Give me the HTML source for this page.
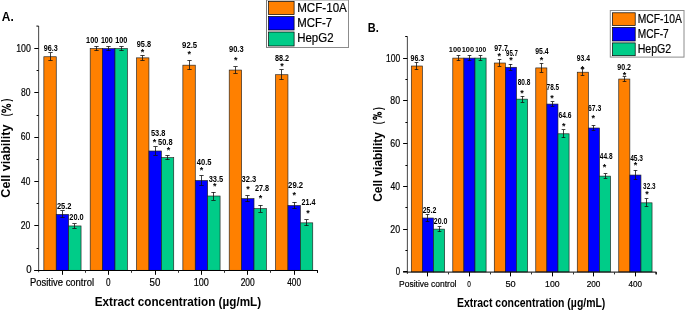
<!DOCTYPE html>
<html><head><meta charset="utf-8"><style>
html,body{margin:0;padding:0;background:#fff;}
body{width:685px;height:310px;overflow:hidden;}
svg{display:block;font-family:"Liberation Sans",sans-serif;will-change:transform;}
</style></head><body>
<svg width="685" height="310" viewBox="0 0 685 310">
<rect width="685" height="310" fill="#fff"/>
<text x="43.70" y="51.00" font-size="8.3" font-weight="bold" text-anchor="start" fill="#000" textLength="14.01" lengthAdjust="spacingAndGlyphs">96.3</text>
<text x="56.89" y="208.50" font-size="8.3" font-weight="bold" text-anchor="start" fill="#000" textLength="14.66" lengthAdjust="spacingAndGlyphs">25.2</text>
<text x="69.29" y="219.80" font-size="8.3" font-weight="bold" text-anchor="start" fill="#000" textLength="14.46" lengthAdjust="spacingAndGlyphs">20.0</text>
<text x="86.09" y="42.60" font-size="8.3" font-weight="bold" text-anchor="start" fill="#000" textLength="12.16" lengthAdjust="spacingAndGlyphs">100</text>
<text x="100.90" y="42.60" font-size="8.3" font-weight="bold" text-anchor="start" fill="#000" textLength="11.84" lengthAdjust="spacingAndGlyphs">100</text>
<text x="115.19" y="42.60" font-size="8.3" font-weight="bold" text-anchor="start" fill="#000" textLength="12.16" lengthAdjust="spacingAndGlyphs">100</text>
<text x="136.80" y="46.50" font-size="8.3" font-weight="bold" text-anchor="start" fill="#000" textLength="14.18" lengthAdjust="spacingAndGlyphs">95.8</text>
<text x="150.92" y="135.60" font-size="8.3" font-weight="bold" text-anchor="start" fill="#000" textLength="14.46" lengthAdjust="spacingAndGlyphs">53.8</text>
<text x="158.12" y="144.80" font-size="8.3" font-weight="bold" text-anchor="start" fill="#000" textLength="14.46" lengthAdjust="spacingAndGlyphs">50.8</text>
<text x="182.08" y="48.00" font-size="8.3" font-weight="bold" text-anchor="start" fill="#000" textLength="15.08" lengthAdjust="spacingAndGlyphs">92.5</text>
<text x="196.74" y="164.90" font-size="8.3" font-weight="bold" text-anchor="start" fill="#000" textLength="14.73" lengthAdjust="spacingAndGlyphs">40.5</text>
<text x="208.68" y="181.70" font-size="8.3" font-weight="bold" text-anchor="start" fill="#000" textLength="14.58" lengthAdjust="spacingAndGlyphs">33.5</text>
<text x="228.99" y="51.90" font-size="8.3" font-weight="bold" text-anchor="start" fill="#000" textLength="14.63" lengthAdjust="spacingAndGlyphs">90.3</text>
<text x="241.58" y="182.10" font-size="8.3" font-weight="bold" text-anchor="start" fill="#000" textLength="14.75" lengthAdjust="spacingAndGlyphs">32.3</text>
<text x="255.00" y="191.10" font-size="8.3" font-weight="bold" text-anchor="start" fill="#000" textLength="14.18" lengthAdjust="spacingAndGlyphs">27.8</text>
<text x="274.92" y="60.60" font-size="8.3" font-weight="bold" text-anchor="start" fill="#000" textLength="14.12" lengthAdjust="spacingAndGlyphs">88.2</text>
<text x="288.08" y="188.20" font-size="8.3" font-weight="bold" text-anchor="start" fill="#000" textLength="15.08" lengthAdjust="spacingAndGlyphs">29.2</text>
<text x="301.50" y="204.70" font-size="8.3" font-weight="bold" text-anchor="start" fill="#000" textLength="14.09" lengthAdjust="spacingAndGlyphs">21.4</text>
<text x="142.60" y="54.72" font-size="9.00" font-weight="bold" text-anchor="middle">*</text>
<text x="154.50" y="145.17" font-size="9.00" font-weight="bold" text-anchor="middle">*</text>
<text x="168.50" y="152.72" font-size="9.00" font-weight="bold" text-anchor="middle">*</text>
<text x="189.20" y="56.92" font-size="9.00" font-weight="bold" text-anchor="middle">*</text>
<text x="201.50" y="173.42" font-size="9.00" font-weight="bold" text-anchor="middle">*</text>
<text x="214.70" y="189.22" font-size="9.00" font-weight="bold" text-anchor="middle">*</text>
<text x="235.70" y="62.72" font-size="9.00" font-weight="bold" text-anchor="middle">*</text>
<text x="247.90" y="191.77" font-size="9.00" font-weight="bold" text-anchor="middle">*</text>
<text x="260.50" y="200.97" font-size="9.00" font-weight="bold" text-anchor="middle">*</text>
<text x="282.00" y="68.82" font-size="9.00" font-weight="bold" text-anchor="middle">*</text>
<text x="294.20" y="197.62" font-size="9.00" font-weight="bold" text-anchor="middle">*</text>
<text x="307.90" y="216.32" font-size="9.00" font-weight="bold" text-anchor="middle">*</text>
<rect x="43.85" y="56.75" width="12.40" height="213.55" fill="#ff8000" stroke="#202020" stroke-width="0.65"/>
<rect x="56.25" y="214.42" width="12.40" height="55.88" fill="#0000ff" stroke="#202020" stroke-width="0.65"/>
<rect x="68.65" y="225.95" width="12.40" height="44.35" fill="#00cc88" stroke="#202020" stroke-width="0.65"/>
<rect x="90.19" y="48.55" width="12.40" height="221.75" fill="#ff8000" stroke="#202020" stroke-width="0.65"/>
<rect x="102.59" y="48.55" width="12.40" height="221.75" fill="#0000ff" stroke="#202020" stroke-width="0.65"/>
<rect x="114.99" y="48.55" width="12.40" height="221.75" fill="#00cc88" stroke="#202020" stroke-width="0.65"/>
<rect x="136.53" y="57.86" width="12.40" height="212.44" fill="#ff8000" stroke="#202020" stroke-width="0.65"/>
<rect x="148.93" y="151.00" width="12.40" height="119.30" fill="#0000ff" stroke="#202020" stroke-width="0.65"/>
<rect x="161.33" y="157.65" width="12.40" height="112.65" fill="#00cc88" stroke="#202020" stroke-width="0.65"/>
<rect x="182.87" y="65.18" width="12.40" height="205.12" fill="#ff8000" stroke="#202020" stroke-width="0.65"/>
<rect x="195.27" y="180.49" width="12.40" height="89.81" fill="#0000ff" stroke="#202020" stroke-width="0.65"/>
<rect x="207.67" y="196.01" width="12.40" height="74.29" fill="#00cc88" stroke="#202020" stroke-width="0.65"/>
<rect x="229.21" y="70.06" width="12.40" height="200.24" fill="#ff8000" stroke="#202020" stroke-width="0.65"/>
<rect x="241.61" y="198.67" width="12.40" height="71.63" fill="#0000ff" stroke="#202020" stroke-width="0.65"/>
<rect x="254.01" y="208.65" width="12.40" height="61.65" fill="#00cc88" stroke="#202020" stroke-width="0.65"/>
<rect x="275.55" y="74.72" width="12.40" height="195.58" fill="#ff8000" stroke="#202020" stroke-width="0.65"/>
<rect x="287.95" y="205.55" width="12.40" height="64.75" fill="#0000ff" stroke="#202020" stroke-width="0.65"/>
<rect x="300.35" y="222.85" width="12.40" height="47.45" fill="#00cc88" stroke="#202020" stroke-width="0.65"/>
<line x1="50.50" y1="52.95" x2="50.50" y2="60.55" stroke="#111" stroke-width="0.8"/>
<line x1="48.35" y1="52.50" x2="52.65" y2="52.50" stroke="#111" stroke-width="0.8"/>
<line x1="48.35" y1="60.50" x2="52.65" y2="60.50" stroke="#111" stroke-width="0.8"/>
<line x1="62.50" y1="210.97" x2="62.50" y2="217.87" stroke="#111" stroke-width="0.8"/>
<line x1="60.35" y1="210.50" x2="64.65" y2="210.50" stroke="#111" stroke-width="0.8"/>
<line x1="60.35" y1="217.50" x2="64.65" y2="217.50" stroke="#111" stroke-width="0.8"/>
<line x1="74.50" y1="223.85" x2="74.50" y2="228.05" stroke="#111" stroke-width="0.8"/>
<line x1="72.35" y1="223.50" x2="76.65" y2="223.50" stroke="#111" stroke-width="0.8"/>
<line x1="72.35" y1="228.50" x2="76.65" y2="228.50" stroke="#111" stroke-width="0.8"/>
<line x1="96.50" y1="46.45" x2="96.50" y2="50.65" stroke="#111" stroke-width="0.8"/>
<line x1="94.35" y1="46.50" x2="98.65" y2="46.50" stroke="#111" stroke-width="0.8"/>
<line x1="94.35" y1="50.50" x2="98.65" y2="50.50" stroke="#111" stroke-width="0.8"/>
<line x1="108.50" y1="46.45" x2="108.50" y2="50.65" stroke="#111" stroke-width="0.8"/>
<line x1="106.35" y1="46.50" x2="110.65" y2="46.50" stroke="#111" stroke-width="0.8"/>
<line x1="106.35" y1="50.50" x2="110.65" y2="50.50" stroke="#111" stroke-width="0.8"/>
<line x1="121.50" y1="46.45" x2="121.50" y2="50.65" stroke="#111" stroke-width="0.8"/>
<line x1="119.35" y1="46.50" x2="123.65" y2="46.50" stroke="#111" stroke-width="0.8"/>
<line x1="119.35" y1="50.50" x2="123.65" y2="50.50" stroke="#111" stroke-width="0.8"/>
<line x1="142.50" y1="55.41" x2="142.50" y2="60.31" stroke="#111" stroke-width="0.8"/>
<line x1="140.35" y1="55.50" x2="144.65" y2="55.50" stroke="#111" stroke-width="0.8"/>
<line x1="140.35" y1="60.50" x2="144.65" y2="60.50" stroke="#111" stroke-width="0.8"/>
<line x1="155.50" y1="146.80" x2="155.50" y2="155.20" stroke="#111" stroke-width="0.8"/>
<line x1="153.35" y1="146.50" x2="157.65" y2="146.50" stroke="#111" stroke-width="0.8"/>
<line x1="153.35" y1="155.50" x2="157.65" y2="155.50" stroke="#111" stroke-width="0.8"/>
<line x1="167.50" y1="155.55" x2="167.50" y2="159.75" stroke="#111" stroke-width="0.8"/>
<line x1="165.35" y1="155.50" x2="169.65" y2="155.50" stroke="#111" stroke-width="0.8"/>
<line x1="165.35" y1="159.50" x2="169.65" y2="159.50" stroke="#111" stroke-width="0.8"/>
<line x1="189.50" y1="60.48" x2="189.50" y2="69.88" stroke="#111" stroke-width="0.8"/>
<line x1="187.35" y1="60.50" x2="191.65" y2="60.50" stroke="#111" stroke-width="0.8"/>
<line x1="187.35" y1="69.50" x2="191.65" y2="69.50" stroke="#111" stroke-width="0.8"/>
<line x1="201.50" y1="175.49" x2="201.50" y2="185.49" stroke="#111" stroke-width="0.8"/>
<line x1="199.35" y1="175.50" x2="203.65" y2="175.50" stroke="#111" stroke-width="0.8"/>
<line x1="199.35" y1="185.50" x2="203.65" y2="185.50" stroke="#111" stroke-width="0.8"/>
<line x1="213.50" y1="192.01" x2="213.50" y2="200.01" stroke="#111" stroke-width="0.8"/>
<line x1="211.35" y1="192.50" x2="215.65" y2="192.50" stroke="#111" stroke-width="0.8"/>
<line x1="211.35" y1="200.50" x2="215.65" y2="200.50" stroke="#111" stroke-width="0.8"/>
<line x1="235.50" y1="66.86" x2="235.50" y2="73.26" stroke="#111" stroke-width="0.8"/>
<line x1="233.35" y1="66.50" x2="237.65" y2="66.50" stroke="#111" stroke-width="0.8"/>
<line x1="233.35" y1="73.50" x2="237.65" y2="73.50" stroke="#111" stroke-width="0.8"/>
<line x1="247.50" y1="195.57" x2="247.50" y2="201.77" stroke="#111" stroke-width="0.8"/>
<line x1="245.35" y1="195.50" x2="249.65" y2="195.50" stroke="#111" stroke-width="0.8"/>
<line x1="245.35" y1="201.50" x2="249.65" y2="201.50" stroke="#111" stroke-width="0.8"/>
<line x1="260.50" y1="205.25" x2="260.50" y2="212.05" stroke="#111" stroke-width="0.8"/>
<line x1="258.35" y1="205.50" x2="262.65" y2="205.50" stroke="#111" stroke-width="0.8"/>
<line x1="258.35" y1="212.50" x2="262.65" y2="212.50" stroke="#111" stroke-width="0.8"/>
<line x1="281.50" y1="69.72" x2="281.50" y2="79.72" stroke="#111" stroke-width="0.8"/>
<line x1="279.35" y1="69.50" x2="283.65" y2="69.50" stroke="#111" stroke-width="0.8"/>
<line x1="279.35" y1="79.50" x2="283.65" y2="79.50" stroke="#111" stroke-width="0.8"/>
<line x1="294.50" y1="202.30" x2="294.50" y2="208.80" stroke="#111" stroke-width="0.8"/>
<line x1="292.35" y1="202.50" x2="296.65" y2="202.50" stroke="#111" stroke-width="0.8"/>
<line x1="292.35" y1="208.50" x2="296.65" y2="208.50" stroke="#111" stroke-width="0.8"/>
<line x1="306.50" y1="219.85" x2="306.50" y2="225.85" stroke="#111" stroke-width="0.8"/>
<line x1="304.35" y1="219.50" x2="308.65" y2="219.50" stroke="#111" stroke-width="0.8"/>
<line x1="304.35" y1="225.50" x2="308.65" y2="225.50" stroke="#111" stroke-width="0.8"/>
<line x1="38.60" y1="26.10" x2="38.60" y2="272.30" stroke="#555" stroke-width="1.1"/>
<line x1="36.40" y1="26.10" x2="38.60" y2="26.10" stroke="#000" stroke-width="1.0"/>
<line x1="34.30" y1="270.50" x2="318.00" y2="270.50" stroke="#000" stroke-width="1.0"/>
<line x1="34.30" y1="270.50" x2="38.60" y2="270.50" stroke="#000" stroke-width="1.0"/>
<line x1="34.30" y1="225.50" x2="38.60" y2="225.50" stroke="#000" stroke-width="1.0"/>
<line x1="34.30" y1="181.50" x2="38.60" y2="181.50" stroke="#000" stroke-width="1.0"/>
<line x1="34.30" y1="137.50" x2="38.60" y2="137.50" stroke="#000" stroke-width="1.0"/>
<line x1="34.30" y1="92.50" x2="38.60" y2="92.50" stroke="#000" stroke-width="1.0"/>
<line x1="34.30" y1="48.50" x2="38.60" y2="48.50" stroke="#000" stroke-width="1.0"/>
<line x1="36.60" y1="248.50" x2="38.60" y2="248.50" stroke="#000" stroke-width="1.0"/>
<line x1="36.60" y1="203.50" x2="38.60" y2="203.50" stroke="#000" stroke-width="1.0"/>
<line x1="36.60" y1="159.50" x2="38.60" y2="159.50" stroke="#000" stroke-width="1.0"/>
<line x1="36.60" y1="115.50" x2="38.60" y2="115.50" stroke="#000" stroke-width="1.0"/>
<line x1="36.60" y1="70.50" x2="38.60" y2="70.50" stroke="#000" stroke-width="1.0"/>
<line x1="62.50" y1="270.50" x2="62.50" y2="274.80" stroke="#000" stroke-width="1.0"/>
<line x1="108.50" y1="270.50" x2="108.50" y2="274.80" stroke="#000" stroke-width="1.0"/>
<line x1="155.50" y1="270.50" x2="155.50" y2="274.80" stroke="#000" stroke-width="1.0"/>
<line x1="201.50" y1="270.50" x2="201.50" y2="274.80" stroke="#000" stroke-width="1.0"/>
<line x1="247.50" y1="270.50" x2="247.50" y2="274.80" stroke="#000" stroke-width="1.0"/>
<line x1="294.50" y1="270.50" x2="294.50" y2="274.80" stroke="#000" stroke-width="1.0"/>
<line x1="85.50" y1="270.50" x2="85.50" y2="272.80" stroke="#333" stroke-width="1.0"/>
<line x1="131.50" y1="270.50" x2="131.50" y2="272.80" stroke="#333" stroke-width="1.0"/>
<line x1="178.50" y1="270.50" x2="178.50" y2="272.80" stroke="#333" stroke-width="1.0"/>
<line x1="224.50" y1="270.50" x2="224.50" y2="272.80" stroke="#333" stroke-width="1.0"/>
<line x1="270.50" y1="270.50" x2="270.50" y2="272.80" stroke="#333" stroke-width="1.0"/>
<line x1="317.50" y1="270.50" x2="317.50" y2="272.80" stroke="#333" stroke-width="1.0"/>
<line x1="317.50" y1="270.50" x2="317.50" y2="272.80" stroke="#000" stroke-width="1.0"/>
<text x="26.27" y="273.30" font-size="10.5" font-weight="normal" text-anchor="start" fill="#000" textLength="5.35" lengthAdjust="spacingAndGlyphs" stroke="#000" stroke-width="0.2">0</text>
<text x="20.82" y="228.95" font-size="10.5" font-weight="normal" text-anchor="start" fill="#000" textLength="9.57" lengthAdjust="spacingAndGlyphs" stroke="#000" stroke-width="0.2">20</text>
<text x="21.06" y="184.60" font-size="10.5" font-weight="normal" text-anchor="start" fill="#000" textLength="9.32" lengthAdjust="spacingAndGlyphs" stroke="#000" stroke-width="0.2">40</text>
<text x="20.81" y="140.25" font-size="10.5" font-weight="normal" text-anchor="start" fill="#000" textLength="9.57" lengthAdjust="spacingAndGlyphs" stroke="#000" stroke-width="0.2">60</text>
<text x="20.88" y="95.90" font-size="10.5" font-weight="normal" text-anchor="start" fill="#000" textLength="9.51" lengthAdjust="spacingAndGlyphs" stroke="#000" stroke-width="0.2">80</text>
<text x="16.18" y="51.55" font-size="10.5" font-weight="normal" text-anchor="start" fill="#000" textLength="14.72" lengthAdjust="spacingAndGlyphs" stroke="#000" stroke-width="0.2">100</text>
<text x="29.98" y="285.90" font-size="10.0" font-weight="normal" text-anchor="start" fill="#000" textLength="64.01" lengthAdjust="spacingAndGlyphs" stroke="#000" stroke-width="0.2">Positive control</text>
<text x="105.93" y="285.90" font-size="10.0" font-weight="normal" text-anchor="start" fill="#000" textLength="4.54" lengthAdjust="spacingAndGlyphs" stroke="#000" stroke-width="0.2">0</text>
<text x="149.56" y="285.90" font-size="10.0" font-weight="normal" text-anchor="start" fill="#000" textLength="10.77" lengthAdjust="spacingAndGlyphs" stroke="#000" stroke-width="0.2">50</text>
<text x="193.76" y="285.90" font-size="10.0" font-weight="normal" text-anchor="start" fill="#000" textLength="15.15" lengthAdjust="spacingAndGlyphs" stroke="#000" stroke-width="0.2">100</text>
<text x="240.63" y="285.90" font-size="10.0" font-weight="normal" text-anchor="start" fill="#000" textLength="14.05" lengthAdjust="spacingAndGlyphs" stroke="#000" stroke-width="0.2">200</text>
<text x="287.26" y="285.90" font-size="10.0" font-weight="normal" text-anchor="start" fill="#000" textLength="13.81" lengthAdjust="spacingAndGlyphs" stroke="#000" stroke-width="0.2">400</text>
<text x="94.77" y="305.80" font-size="12.2" font-weight="bold" text-anchor="start" fill="#000" textLength="166.37" lengthAdjust="spacingAndGlyphs">Extract concentration (µg/mL)</text>
<text x="0" y="0" font-size="12.3" font-weight="bold" transform="translate(10.20 197.66) rotate(-90) scale(1.0196 1)">Cell viability</text>
<text x="0" y="0" font-size="12.3" font-weight="bold" transform="translate(10.20 116.37) rotate(-90) scale(0.6914 1)">(</text>
<ellipse cx="3.9" cy="110.9" rx="1.85" ry="1.35" fill="none" stroke="#000" stroke-width="1.25"/>
<ellipse cx="8.6" cy="105.6" rx="1.85" ry="1.35" fill="none" stroke="#000" stroke-width="1.25"/>
<line x1="1.9" y1="106.0" x2="11.0" y2="110.3" stroke="#000" stroke-width="1.15"/>
<text x="0" y="0" font-size="12.3" font-weight="bold" transform="translate(10.20 101.56) rotate(-90) scale(0.6914 1)">)</text>
<text x="1.85" y="21.00" font-size="12.5" font-weight="bold" text-anchor="start" fill="#000" textLength="11.92" lengthAdjust="spacingAndGlyphs">A.</text>
<rect x="266.5" y="0" width="82" height="47.5" fill="#fff" stroke="#8c8c8c" stroke-width="1"/>
<line x1="266.5" y1="0" x2="266.5" y2="47.5" stroke="#777" stroke-width="1"/>
<rect x="268.6" y="1.50" width="25.5" height="13.00" fill="#ff8000" stroke="#000" stroke-width="0.7"/>
<rect x="268.6" y="16.50" width="25.5" height="13.50" fill="#0000ff" stroke="#000" stroke-width="0.7"/>
<rect x="268.6" y="32.00" width="25.5" height="14.00" fill="#00cc88" stroke="#000" stroke-width="0.7"/>
<text x="410.61" y="60.60" font-size="8.3" font-weight="bold" text-anchor="start" fill="#000" textLength="13.59" lengthAdjust="spacingAndGlyphs">96.3</text>
<text x="422.71" y="212.70" font-size="8.3" font-weight="bold" text-anchor="start" fill="#000" textLength="13.62" lengthAdjust="spacingAndGlyphs">25.2</text>
<text x="433.81" y="224.10" font-size="8.3" font-weight="bold" text-anchor="start" fill="#000" textLength="13.63" lengthAdjust="spacingAndGlyphs">20.0</text>
<text x="448.78" y="51.90" font-size="7.4" font-weight="bold" text-anchor="start" fill="#000" textLength="12.37" lengthAdjust="spacingAndGlyphs">100</text>
<text x="461.68" y="51.90" font-size="7.4" font-weight="bold" text-anchor="start" fill="#000" textLength="12.37" lengthAdjust="spacingAndGlyphs">100</text>
<text x="475.14" y="51.90" font-size="7.4" font-weight="bold" text-anchor="start" fill="#000" textLength="10.98" lengthAdjust="spacingAndGlyphs">100</text>
<text x="494.21" y="50.50" font-size="8.3" font-weight="bold" text-anchor="start" fill="#000" textLength="13.65" lengthAdjust="spacingAndGlyphs">97.7</text>
<text x="506.04" y="56.30" font-size="8.3" font-weight="bold" text-anchor="start" fill="#000" textLength="11.78" lengthAdjust="spacingAndGlyphs">95.7</text>
<text x="517.74" y="85.40" font-size="8.3" font-weight="bold" text-anchor="start" fill="#000" textLength="12.71" lengthAdjust="spacingAndGlyphs">80.8</text>
<text x="535.31" y="53.50" font-size="8.3" font-weight="bold" text-anchor="start" fill="#000" textLength="13.38" lengthAdjust="spacingAndGlyphs">95.4</text>
<text x="546.57" y="90.30" font-size="8.3" font-weight="bold" text-anchor="start" fill="#000" textLength="12.56" lengthAdjust="spacingAndGlyphs">78.5</text>
<text x="558.51" y="118.20" font-size="8.3" font-weight="bold" text-anchor="start" fill="#000" textLength="12.99" lengthAdjust="spacingAndGlyphs">64.6</text>
<text x="576.82" y="61.00" font-size="8.3" font-weight="bold" text-anchor="start" fill="#000" textLength="13.17" lengthAdjust="spacingAndGlyphs">93.4</text>
<text x="588.00" y="111.00" font-size="8.3" font-weight="bold" text-anchor="start" fill="#000" textLength="13.30" lengthAdjust="spacingAndGlyphs">67.3</text>
<text x="599.85" y="158.90" font-size="8.3" font-weight="bold" text-anchor="start" fill="#000" textLength="12.70" lengthAdjust="spacingAndGlyphs">44.8</text>
<text x="617.31" y="70.30" font-size="8.3" font-weight="bold" text-anchor="start" fill="#000" textLength="13.73" lengthAdjust="spacingAndGlyphs">90.2</text>
<text x="630.15" y="160.80" font-size="8.3" font-weight="bold" text-anchor="start" fill="#000" textLength="12.84" lengthAdjust="spacingAndGlyphs">45.3</text>
<text x="643.10" y="188.60" font-size="8.3" font-weight="bold" text-anchor="start" fill="#000" textLength="12.38" lengthAdjust="spacingAndGlyphs">32.3</text>
<text x="499.20" y="58.97" font-size="9.00" font-weight="bold" text-anchor="middle">*</text>
<text x="510.90" y="63.47" font-size="9.00" font-weight="bold" text-anchor="middle">*</text>
<text x="522.10" y="95.67" font-size="9.00" font-weight="bold" text-anchor="middle">*</text>
<text x="541.50" y="62.72" font-size="9.00" font-weight="bold" text-anchor="middle">*</text>
<text x="552.10" y="100.97" font-size="9.00" font-weight="bold" text-anchor="middle">*</text>
<text x="563.70" y="128.62" font-size="9.00" font-weight="bold" text-anchor="middle">*</text>
<text x="582.60" y="71.67" font-size="9.00" font-weight="bold" text-anchor="middle">*</text>
<text x="593.20" y="120.72" font-size="9.00" font-weight="bold" text-anchor="middle">*</text>
<text x="604.50" y="169.52" font-size="9.00" font-weight="bold" text-anchor="middle">*</text>
<text x="624.50" y="77.92" font-size="9.00" font-weight="bold" text-anchor="middle">*</text>
<text x="635.50" y="168.22" font-size="9.00" font-weight="bold" text-anchor="middle">*</text>
<text x="646.90" y="196.92" font-size="9.00" font-weight="bold" text-anchor="middle">*</text>
<rect x="411.30" y="66.01" width="11.10" height="205.89" fill="#ff8000" stroke="#202020" stroke-width="0.65"/>
<rect x="422.40" y="218.02" width="11.10" height="53.88" fill="#0000ff" stroke="#202020" stroke-width="0.65"/>
<rect x="433.50" y="229.14" width="11.10" height="42.76" fill="#00cc88" stroke="#202020" stroke-width="0.65"/>
<rect x="452.79" y="58.10" width="11.10" height="213.80" fill="#ff8000" stroke="#202020" stroke-width="0.65"/>
<rect x="463.89" y="58.10" width="11.10" height="213.80" fill="#0000ff" stroke="#202020" stroke-width="0.65"/>
<rect x="474.99" y="58.10" width="11.10" height="213.80" fill="#00cc88" stroke="#202020" stroke-width="0.65"/>
<rect x="494.28" y="63.02" width="11.10" height="208.88" fill="#ff8000" stroke="#202020" stroke-width="0.65"/>
<rect x="505.38" y="67.29" width="11.10" height="204.61" fill="#0000ff" stroke="#202020" stroke-width="0.65"/>
<rect x="516.48" y="99.15" width="11.10" height="172.75" fill="#00cc88" stroke="#202020" stroke-width="0.65"/>
<rect x="535.77" y="67.93" width="11.10" height="203.97" fill="#ff8000" stroke="#202020" stroke-width="0.65"/>
<rect x="546.87" y="104.07" width="11.10" height="167.83" fill="#0000ff" stroke="#202020" stroke-width="0.65"/>
<rect x="557.97" y="133.79" width="11.10" height="138.11" fill="#00cc88" stroke="#202020" stroke-width="0.65"/>
<rect x="577.26" y="72.21" width="11.10" height="199.69" fill="#ff8000" stroke="#202020" stroke-width="0.65"/>
<rect x="588.36" y="128.01" width="11.10" height="143.89" fill="#0000ff" stroke="#202020" stroke-width="0.65"/>
<rect x="599.46" y="176.12" width="11.10" height="95.78" fill="#00cc88" stroke="#202020" stroke-width="0.65"/>
<rect x="618.75" y="79.05" width="11.10" height="192.85" fill="#ff8000" stroke="#202020" stroke-width="0.65"/>
<rect x="629.85" y="175.05" width="11.10" height="96.85" fill="#0000ff" stroke="#202020" stroke-width="0.65"/>
<rect x="640.95" y="202.84" width="11.10" height="69.06" fill="#00cc88" stroke="#202020" stroke-width="0.65"/>
<line x1="416.50" y1="62.36" x2="416.50" y2="69.66" stroke="#111" stroke-width="0.8"/>
<line x1="414.65" y1="62.50" x2="418.35" y2="62.50" stroke="#111" stroke-width="0.8"/>
<line x1="414.65" y1="69.50" x2="418.35" y2="69.50" stroke="#111" stroke-width="0.8"/>
<line x1="427.50" y1="214.37" x2="427.50" y2="221.67" stroke="#111" stroke-width="0.8"/>
<line x1="425.65" y1="214.50" x2="429.35" y2="214.50" stroke="#111" stroke-width="0.8"/>
<line x1="425.65" y1="221.50" x2="429.35" y2="221.50" stroke="#111" stroke-width="0.8"/>
<line x1="439.50" y1="226.64" x2="439.50" y2="231.64" stroke="#111" stroke-width="0.8"/>
<line x1="437.65" y1="226.50" x2="441.35" y2="226.50" stroke="#111" stroke-width="0.8"/>
<line x1="437.65" y1="231.50" x2="441.35" y2="231.50" stroke="#111" stroke-width="0.8"/>
<line x1="458.50" y1="55.50" x2="458.50" y2="60.70" stroke="#111" stroke-width="0.8"/>
<line x1="456.65" y1="55.50" x2="460.35" y2="55.50" stroke="#111" stroke-width="0.8"/>
<line x1="456.65" y1="60.50" x2="460.35" y2="60.50" stroke="#111" stroke-width="0.8"/>
<line x1="469.50" y1="55.50" x2="469.50" y2="60.70" stroke="#111" stroke-width="0.8"/>
<line x1="467.65" y1="55.50" x2="471.35" y2="55.50" stroke="#111" stroke-width="0.8"/>
<line x1="467.65" y1="60.50" x2="471.35" y2="60.50" stroke="#111" stroke-width="0.8"/>
<line x1="480.50" y1="55.50" x2="480.50" y2="60.70" stroke="#111" stroke-width="0.8"/>
<line x1="478.65" y1="55.50" x2="482.35" y2="55.50" stroke="#111" stroke-width="0.8"/>
<line x1="478.65" y1="60.50" x2="482.35" y2="60.50" stroke="#111" stroke-width="0.8"/>
<line x1="499.50" y1="59.82" x2="499.50" y2="66.22" stroke="#111" stroke-width="0.8"/>
<line x1="497.65" y1="59.50" x2="501.35" y2="59.50" stroke="#111" stroke-width="0.8"/>
<line x1="497.65" y1="66.50" x2="501.35" y2="66.50" stroke="#111" stroke-width="0.8"/>
<line x1="510.50" y1="64.09" x2="510.50" y2="70.49" stroke="#111" stroke-width="0.8"/>
<line x1="508.65" y1="64.50" x2="512.35" y2="64.50" stroke="#111" stroke-width="0.8"/>
<line x1="508.65" y1="70.50" x2="512.35" y2="70.50" stroke="#111" stroke-width="0.8"/>
<line x1="522.50" y1="96.15" x2="522.50" y2="102.15" stroke="#111" stroke-width="0.8"/>
<line x1="520.65" y1="96.50" x2="524.35" y2="96.50" stroke="#111" stroke-width="0.8"/>
<line x1="520.65" y1="102.50" x2="524.35" y2="102.50" stroke="#111" stroke-width="0.8"/>
<line x1="541.50" y1="63.53" x2="541.50" y2="72.33" stroke="#111" stroke-width="0.8"/>
<line x1="539.65" y1="63.50" x2="543.35" y2="63.50" stroke="#111" stroke-width="0.8"/>
<line x1="539.65" y1="72.50" x2="543.35" y2="72.50" stroke="#111" stroke-width="0.8"/>
<line x1="552.50" y1="101.82" x2="552.50" y2="106.32" stroke="#111" stroke-width="0.8"/>
<line x1="550.65" y1="101.50" x2="554.35" y2="101.50" stroke="#111" stroke-width="0.8"/>
<line x1="550.65" y1="106.50" x2="554.35" y2="106.50" stroke="#111" stroke-width="0.8"/>
<line x1="563.50" y1="129.99" x2="563.50" y2="137.59" stroke="#111" stroke-width="0.8"/>
<line x1="561.65" y1="129.50" x2="565.35" y2="129.50" stroke="#111" stroke-width="0.8"/>
<line x1="561.65" y1="137.50" x2="565.35" y2="137.50" stroke="#111" stroke-width="0.8"/>
<line x1="582.50" y1="68.81" x2="582.50" y2="75.61" stroke="#111" stroke-width="0.8"/>
<line x1="580.65" y1="68.50" x2="584.35" y2="68.50" stroke="#111" stroke-width="0.8"/>
<line x1="580.65" y1="75.50" x2="584.35" y2="75.50" stroke="#111" stroke-width="0.8"/>
<line x1="593.50" y1="125.46" x2="593.50" y2="130.56" stroke="#111" stroke-width="0.8"/>
<line x1="591.65" y1="125.50" x2="595.35" y2="125.50" stroke="#111" stroke-width="0.8"/>
<line x1="591.65" y1="130.50" x2="595.35" y2="130.50" stroke="#111" stroke-width="0.8"/>
<line x1="605.50" y1="173.87" x2="605.50" y2="178.37" stroke="#111" stroke-width="0.8"/>
<line x1="603.65" y1="173.50" x2="607.35" y2="173.50" stroke="#111" stroke-width="0.8"/>
<line x1="603.65" y1="178.50" x2="607.35" y2="178.50" stroke="#111" stroke-width="0.8"/>
<line x1="624.50" y1="76.65" x2="624.50" y2="81.45" stroke="#111" stroke-width="0.8"/>
<line x1="622.65" y1="76.50" x2="626.35" y2="76.50" stroke="#111" stroke-width="0.8"/>
<line x1="622.65" y1="81.50" x2="626.35" y2="81.50" stroke="#111" stroke-width="0.8"/>
<line x1="635.50" y1="170.20" x2="635.50" y2="179.90" stroke="#111" stroke-width="0.8"/>
<line x1="633.65" y1="170.50" x2="637.35" y2="170.50" stroke="#111" stroke-width="0.8"/>
<line x1="633.65" y1="179.50" x2="637.35" y2="179.50" stroke="#111" stroke-width="0.8"/>
<line x1="646.50" y1="198.89" x2="646.50" y2="206.79" stroke="#111" stroke-width="0.8"/>
<line x1="644.65" y1="198.50" x2="648.35" y2="198.50" stroke="#111" stroke-width="0.8"/>
<line x1="644.65" y1="206.50" x2="648.35" y2="206.50" stroke="#111" stroke-width="0.8"/>
<line x1="407.40" y1="36.50" x2="407.40" y2="273.90" stroke="#555" stroke-width="1.1"/>
<line x1="405.20" y1="36.50" x2="407.40" y2="36.50" stroke="#000" stroke-width="1.0"/>
<line x1="403.10" y1="272.10" x2="656.40" y2="272.10" stroke="#000" stroke-width="1.0"/>
<line x1="403.10" y1="271.50" x2="407.40" y2="271.50" stroke="#000" stroke-width="1.0"/>
<line x1="403.10" y1="229.50" x2="407.40" y2="229.50" stroke="#000" stroke-width="1.0"/>
<line x1="403.10" y1="186.50" x2="407.40" y2="186.50" stroke="#000" stroke-width="1.0"/>
<line x1="403.10" y1="143.50" x2="407.40" y2="143.50" stroke="#000" stroke-width="1.0"/>
<line x1="403.10" y1="100.50" x2="407.40" y2="100.50" stroke="#000" stroke-width="1.0"/>
<line x1="403.10" y1="58.50" x2="407.40" y2="58.50" stroke="#000" stroke-width="1.0"/>
<line x1="405.40" y1="250.50" x2="407.40" y2="250.50" stroke="#000" stroke-width="1.0"/>
<line x1="405.40" y1="207.50" x2="407.40" y2="207.50" stroke="#000" stroke-width="1.0"/>
<line x1="405.40" y1="165.50" x2="407.40" y2="165.50" stroke="#000" stroke-width="1.0"/>
<line x1="405.40" y1="122.50" x2="407.40" y2="122.50" stroke="#000" stroke-width="1.0"/>
<line x1="405.40" y1="79.50" x2="407.40" y2="79.50" stroke="#000" stroke-width="1.0"/>
<line x1="427.50" y1="272.10" x2="427.50" y2="276.40" stroke="#000" stroke-width="1.0"/>
<line x1="469.50" y1="272.10" x2="469.50" y2="276.40" stroke="#000" stroke-width="1.0"/>
<line x1="510.50" y1="272.10" x2="510.50" y2="276.40" stroke="#000" stroke-width="1.0"/>
<line x1="552.50" y1="272.10" x2="552.50" y2="276.40" stroke="#000" stroke-width="1.0"/>
<line x1="593.50" y1="272.10" x2="593.50" y2="276.40" stroke="#000" stroke-width="1.0"/>
<line x1="635.50" y1="272.10" x2="635.50" y2="276.40" stroke="#000" stroke-width="1.0"/>
<line x1="448.50" y1="272.10" x2="448.50" y2="274.40" stroke="#333" stroke-width="1.0"/>
<line x1="490.50" y1="272.10" x2="490.50" y2="274.40" stroke="#333" stroke-width="1.0"/>
<line x1="531.50" y1="272.10" x2="531.50" y2="274.40" stroke="#333" stroke-width="1.0"/>
<line x1="573.50" y1="272.10" x2="573.50" y2="274.40" stroke="#333" stroke-width="1.0"/>
<line x1="614.50" y1="272.10" x2="614.50" y2="274.40" stroke="#333" stroke-width="1.0"/>
<line x1="656.50" y1="272.10" x2="656.50" y2="274.40" stroke="#333" stroke-width="1.0"/>
<line x1="655.90" y1="272.10" x2="655.90" y2="274.40" stroke="#000" stroke-width="1.0"/>
<text x="395.85" y="275.40" font-size="10.0" font-weight="normal" text-anchor="start" fill="#000" textLength="4.30" lengthAdjust="spacingAndGlyphs" stroke="#000" stroke-width="0.2">0</text>
<text x="390.31" y="232.64" font-size="10.0" font-weight="normal" text-anchor="start" fill="#000" textLength="9.79" lengthAdjust="spacingAndGlyphs" stroke="#000" stroke-width="0.2">20</text>
<text x="390.55" y="189.88" font-size="10.0" font-weight="normal" text-anchor="start" fill="#000" textLength="9.53" lengthAdjust="spacingAndGlyphs" stroke="#000" stroke-width="0.2">40</text>
<text x="390.30" y="147.12" font-size="10.0" font-weight="normal" text-anchor="start" fill="#000" textLength="9.79" lengthAdjust="spacingAndGlyphs" stroke="#000" stroke-width="0.2">60</text>
<text x="390.37" y="104.36" font-size="10.0" font-weight="normal" text-anchor="start" fill="#000" textLength="9.72" lengthAdjust="spacingAndGlyphs" stroke="#000" stroke-width="0.2">80</text>
<text x="386.10" y="61.60" font-size="10.0" font-weight="normal" text-anchor="start" fill="#000" textLength="14.29" lengthAdjust="spacingAndGlyphs" stroke="#000" stroke-width="0.2">100</text>
<text x="399.05" y="287.20" font-size="9.6" font-weight="normal" text-anchor="start" fill="#000" textLength="57.46" lengthAdjust="spacingAndGlyphs" stroke="#000" stroke-width="0.2">Positive control</text>
<text x="467.30" y="287.20" font-size="9.6" font-weight="normal" text-anchor="start" fill="#000" textLength="3.61" lengthAdjust="spacingAndGlyphs" stroke="#000" stroke-width="0.2">0</text>
<text x="505.38" y="287.20" font-size="9.6" font-weight="normal" text-anchor="start" fill="#000" textLength="10.23" lengthAdjust="spacingAndGlyphs" stroke="#000" stroke-width="0.2">50</text>
<text x="545.09" y="287.20" font-size="9.6" font-weight="normal" text-anchor="start" fill="#000" textLength="14.50" lengthAdjust="spacingAndGlyphs" stroke="#000" stroke-width="0.2">100</text>
<text x="586.64" y="287.20" font-size="9.6" font-weight="normal" text-anchor="start" fill="#000" textLength="13.74" lengthAdjust="spacingAndGlyphs" stroke="#000" stroke-width="0.2">200</text>
<text x="628.46" y="287.20" font-size="9.6" font-weight="normal" text-anchor="start" fill="#000" textLength="13.50" lengthAdjust="spacingAndGlyphs" stroke="#000" stroke-width="0.2">400</text>
<text x="456.95" y="306.80" font-size="12.0" font-weight="bold" text-anchor="start" fill="#000" textLength="148.42" lengthAdjust="spacingAndGlyphs">Extract concentration (µg/mL)</text>
<text x="0" y="0" font-size="11.9" font-weight="bold" transform="translate(382.10 201.74) rotate(-90) scale(1.0031 1)">Cell viability</text>
<text x="0" y="0" font-size="11.9" font-weight="bold" transform="translate(382.10 124.37) rotate(-90) scale(0.7146 1)">(</text>
<ellipse cx="374.9" cy="118.1" rx="1.7" ry="1.25" fill="none" stroke="#000" stroke-width="1.25"/>
<ellipse cx="379.5" cy="113.5" rx="1.7" ry="1.25" fill="none" stroke="#000" stroke-width="1.25"/>
<line x1="373.4" y1="114.6" x2="382.1" y2="117.3" stroke="#000" stroke-width="1.15"/>
<text x="0" y="0" font-size="11.9" font-weight="bold" transform="translate(382.10 110.06) rotate(-90) scale(0.7146 1)">)</text>
<text x="367.71" y="31.80" font-size="12.5" font-weight="bold" text-anchor="start" fill="#000" textLength="10.99" lengthAdjust="spacingAndGlyphs">B.</text>
<rect x="610.3" y="10.5" width="73.7" height="46.6" fill="#fff" stroke="#8c8c8c" stroke-width="1"/>
<rect x="612.5" y="12.80" width="22.7" height="12.60" fill="#ff8000" stroke="#000" stroke-width="0.7"/>
<rect x="612.5" y="27.40" width="22.7" height="13.60" fill="#0000ff" stroke="#000" stroke-width="0.7"/>
<rect x="612.5" y="42.90" width="22.7" height="12.80" fill="#00cc88" stroke="#000" stroke-width="0.7"/>
<text x="297.20" y="12.10" font-size="13.0" font-weight="normal" text-anchor="start" fill="#000" textLength="49.68" lengthAdjust="spacingAndGlyphs" stroke="#000" stroke-width="0.2">MCF-10A</text>
<text x="297.21" y="26.80" font-size="13.0" font-weight="normal" text-anchor="start" fill="#000" textLength="34.91" lengthAdjust="spacingAndGlyphs" stroke="#000" stroke-width="0.2">MCF-7</text>
<text x="297.21" y="42.20" font-size="13.0" font-weight="normal" text-anchor="start" fill="#000" textLength="36.32" lengthAdjust="spacingAndGlyphs" stroke="#000" stroke-width="0.2">HepG2</text>
<text x="637.71" y="22.80" font-size="12.2" font-weight="normal" text-anchor="start" fill="#000" textLength="44.07" lengthAdjust="spacingAndGlyphs" stroke="#000" stroke-width="0.2">MCF-10A</text>
<text x="637.72" y="37.80" font-size="12.2" font-weight="normal" text-anchor="start" fill="#000" textLength="31.04" lengthAdjust="spacingAndGlyphs" stroke="#000" stroke-width="0.2">MCF-7</text>
<text x="637.68" y="52.80" font-size="12.2" font-weight="normal" text-anchor="start" fill="#000" textLength="33.60" lengthAdjust="spacingAndGlyphs" stroke="#000" stroke-width="0.2">HepG2</text>
</svg>
</body></html>
